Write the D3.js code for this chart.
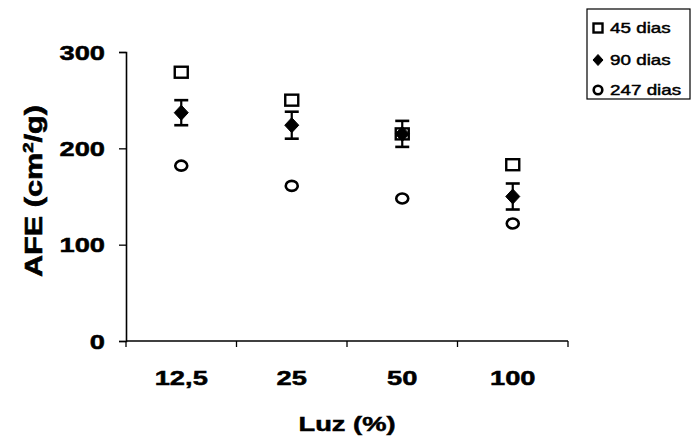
<!DOCTYPE html>
<html>
<head>
<meta charset="utf-8">
<script src="https://cdn.jsdelivr.net/npm/d3@7"></script>
<style>
  html, body { margin: 0; padding: 0; background: #fff; }
  svg { display: block; font-family: "Liberation Sans", Arial, sans-serif; }
</style>
</head>
<body>
<svg id="chart" width="691" height="440"></svg>
<script>
// Light levels (x categories)
const categories = ["12,5", "25", "50", "100"];
// Specific leaf area (AFE, cm²/g) per age
const afe45 = [279, 250, 215, 183];
const afe90 = [237, 224, 215, 150];
const err90 = [13, 14, 13.5, 13.5];
const afe247 = [182, 161, 148, 122];
const yTicks = [0, 100, 200, 300];
const seriesNames = ["45 dias", "90 dias", "247 dias"];

const svg = d3.select("#chart");
const plotLeft = 126, plotRight = 568, plotTop = 52, plotBottom = 341;
const sx = 1.3; // horizontal stretch of glyphs

const x = d3.scaleBand().domain(categories).range([plotLeft, plotRight]).padding(0);
const y = d3.scaleLinear().domain([0, 300]).range([plotBottom, plotTop]);
const cx = c => x(c) + x.bandwidth() / 2;

// Axes
const yAxis = svg.append("g").attr("transform", `translate(${plotLeft},0)`)
  .call(d3.axisLeft(y).tickValues(yTicks).tickSize(7).tickFormat(""));
const xAxis = svg.append("g").attr("transform", `translate(0,${plotBottom})`)
  .call(d3.axisBottom(x).tickSize(0).tickFormat(""));
[yAxis, xAxis].forEach(a => {
  a.select(".domain").attr("stroke", "#000").attr("stroke-width", 1.6);
  a.selectAll(".tick line").attr("stroke", "#000").attr("stroke-width", 1.3);
});
xAxis.select(".domain").attr("d", `M${plotLeft},0H${plotRight}`);

// Category boundary ticks on the x axis
const bounds = categories.map(c => x(c)).concat([plotRight]);
svg.append("g").selectAll("line").data(bounds).join("line")
  .attr("x1", d => d).attr("x2", d => d)
  .attr("y1", plotBottom).attr("y2", plotBottom + 6)
  .attr("stroke", "#000").attr("stroke-width", 1.3);

// Stretched text helper
function label(g, px, py, txt, size, anchor, weight) {
  return g.append("text")
    .attr("transform", `translate(${px},${py}) scale(${sx},1)`)
    .attr("text-anchor", anchor)
    .attr("font-size", size)
    .attr("font-weight", weight)
    .attr("fill", "#000")
    .attr("stroke", "#000").attr("stroke-width", 0.5)
    .text(txt);
}

// Y tick labels
const tl = svg.append("g");
yTicks.forEach(v => label(tl, 105, y(v) + 7.5, v, 21, "end", "bold"));
// X tick labels
categories.forEach(c => label(tl, cx(c), 385, c, 21, "middle", "bold"));

// Axis titles
label(tl, (plotLeft + plotRight) / 2, 431, "Luz (%)", 21, "middle", "bold");
const yt = svg.append("text")
  .attr("transform", `translate(42,191) rotate(-90)`)
  .attr("text-anchor", "middle")
  .attr("font-size", 23).attr("font-weight", "bold")
  .attr("stroke", "#000").attr("stroke-width", 0.6)
  .attr("textLength", 172).attr("lengthAdjust", "spacingAndGlyphs");
yt.append("tspan").text("AFE (cm");
yt.append("tspan").attr("font-size", 14).attr("dy", -9).text("2");
yt.append("tspan").attr("dy", 9).text("/g)");

// Markers
const sqW = 13, sqH = 11;
function square(g, px, py, w, h) {
  g.append("rect").attr("x", px - w / 2).attr("y", py - h / 2)
    .attr("width", w).attr("height", h)
    .attr("fill", "#fff").attr("stroke", "#000").attr("stroke-width", 2.4);
}
function diamond(g, px, py, w, h) {
  g.append("path")
    .attr("d", `M${px},${py - h / 2}L${px + w / 2},${py}L${px},${py + h / 2}L${px - w / 2},${py}Z`)
    .attr("fill", "#000").attr("stroke", "#000").attr("stroke-width", 1);
}
function ring(g, px, py, rx, ry) {
  g.append("ellipse").attr("cx", px).attr("cy", py).attr("rx", rx).attr("ry", ry)
    .attr("fill", "#fff").attr("stroke", "#000").attr("stroke-width", 2.6);
}

const pts = svg.append("g");
categories.forEach((c, i) => {
  const px = cx(c);
  square(pts, px, y(afe45[i]), sqW, sqH);
  ring(pts, px, y(afe247[i]), 6, 5);
});
// 90 dias with error bars
categories.forEach((c, i) => {
  const px = cx(c);
  const y1 = y(afe90[i] + err90[i]), y0 = y(afe90[i] - err90[i]);
  pts.append("line").attr("x1", px).attr("x2", px).attr("y1", y1).attr("y2", y0)
    .attr("stroke", "#000").attr("stroke-width", 2.2);
  [y1, y0].forEach(yy => pts.append("line")
    .attr("x1", px - 7).attr("x2", px + 7).attr("y1", yy).attr("y2", yy)
    .attr("stroke", "#000").attr("stroke-width", 2.6));
  diamond(pts, px, y(afe90[i]), 14, 15);
});

// Legend
const lg = svg.append("g");
lg.append("rect").attr("x", 587).attr("y", 9).attr("width", 103).attr("height", 90)
  .attr("fill", "#fff").attr("stroke", "#000").attr("stroke-width", 1.2);
const rowY = [28, 60, 90];
square(lg, 598, rowY[0], 9, 9);
diamond(lg, 598, rowY[1], 10, 11);
ring(lg, 598, rowY[2], 4.3, 4.3);
seriesNames.forEach((s, i) => {
  label(lg, 610, rowY[i] + 5, s, 14.5, "start", "normal")
    .attr("stroke-width", 0.45);
});
</script>
</body>
</html>
